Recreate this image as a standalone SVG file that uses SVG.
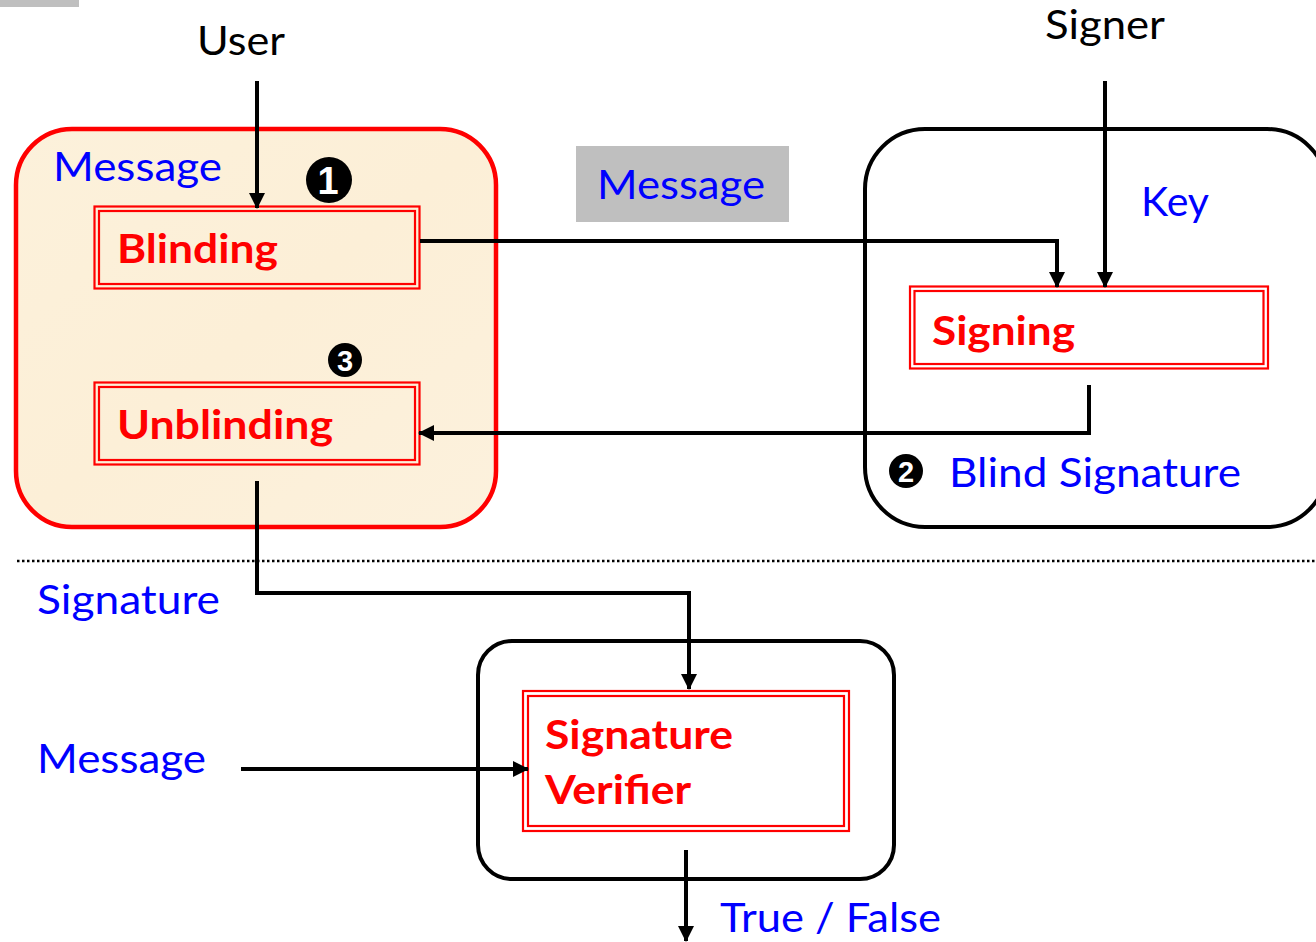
<svg xmlns="http://www.w3.org/2000/svg" width="1316" height="942" viewBox="0 0 1316 942">
  <style>
    .lbl { font-family: Lato, "Open Sans", "Liberation Sans", sans-serif; font-size: 41px; }
    .actor { fill: #000000; }
    .blue { fill: #0000FF; }
    .step { font-family: Lato, "Open Sans", "Liberation Sans", sans-serif; font-size: 41px; font-weight: bold; fill: #FF0000; }
    .outer { fill: none; stroke: #FF0000; stroke-width: 2.2; }
    .inner { fill: none; stroke: #FF0000; stroke-width: 2.2; }
    .conn { fill: none; stroke: #000000; stroke-width: 4; }
    .badge { fill: #000000; }
    .badgeNum { font-family: "Liberation Sans", Arial, sans-serif; font-weight: bold; fill: #FFFFFF; text-anchor: middle; }
  </style>
  <defs>
    <marker id="arrow" viewBox="0 0 16 16" refX="15" refY="8" markerWidth="16" markerHeight="16" markerUnits="userSpaceOnUse" orient="auto">
      <path d="M0,0 L16,8 L0,16 Z" fill="#000000"/>
    </marker>
    <linearGradient id="parchment" x1="0" y1="0" x2="1" y2="1">
      <stop offset="0" stop-color="#FCF1DB"/>
      <stop offset="0.5" stop-color="#FCEFD7"/>
      <stop offset="1" stop-color="#FCF1DD"/>
    </linearGradient>
  </defs>

  <rect width="1316" height="942" fill="#FFFFFF"/>
  <rect x="0" y="0" width="79" height="7" fill="#BFBFBF"/>

  <!-- user side container -->
  <g id="user-box">
    <rect x="16" y="129" width="480" height="398" rx="56" ry="56" fill="url(#parchment)" stroke="#FF0000" stroke-width="4.5"/>
    <text class="lbl blue" x="53" y="181" textLength="169" lengthAdjust="spacingAndGlyphs">Message</text>
  </g>

  <!-- signer side container -->
  <g id="signer-box">
    <rect x="865" y="129" width="462" height="398" rx="60" ry="60" fill="none" stroke="#000000" stroke-width="4"/>
    <text class="lbl blue" x="1141" y="216" textLength="68" lengthAdjust="spacingAndGlyphs">Key</text>
    <circle class="badge" cx="906" cy="471" r="17"/>
    <text class="badgeNum" x="906" y="482" font-size="29">2</text>
    <text class="lbl blue" x="949" y="487" textLength="292" lengthAdjust="spacingAndGlyphs">Blind Signature</text>
  </g>

  <!-- verifier container -->
  <g id="verifier-box">
    <rect x="478" y="641" width="416" height="238" rx="34" ry="34" fill="none" stroke="#000000" stroke-width="4"/>
  </g>

  <g id="user-label">
    <text class="lbl actor" x="197" y="55" textLength="88" lengthAdjust="spacingAndGlyphs">User</text>
  </g>
  <g id="signer-label">
    <text class="lbl actor" x="1045" y="39" textLength="120" lengthAdjust="spacingAndGlyphs">Signer</text>
  </g>

  <g id="step1">
    <circle class="badge" cx="329" cy="180" r="23"/>
    <text class="badgeNum" x="328" y="194" font-size="38">1</text>
  </g>

  <g id="blinding">
    <rect class="outer" x="94.5" y="206.5" width="325" height="82"/>
    <rect class="inner" x="99" y="211" width="316" height="73"/>
    <text class="step" x="117" y="263" textLength="161" lengthAdjust="spacingAndGlyphs">Blinding</text>
  </g>

  <g id="step3">
    <circle class="badge" cx="345" cy="360" r="17"/>
    <text class="badgeNum" x="345" y="371" font-size="29">3</text>
  </g>

  <g id="unblinding">
    <rect class="outer" x="94.5" y="382.5" width="325" height="82"/>
    <rect class="inner" x="99" y="387" width="316" height="73"/>
    <text class="step" x="117" y="439" textLength="216" lengthAdjust="spacingAndGlyphs">Unblinding</text>
  </g>

  <g id="message-tag">
    <rect x="576" y="146" width="213" height="76" fill="#BFBFBF"/>
    <text class="lbl blue" x="597" y="199" textLength="168" lengthAdjust="spacingAndGlyphs">Message</text>
  </g>

  <g id="signing">
    <rect class="outer" x="910" y="286.5" width="358" height="82"/>
    <rect class="inner" x="914.5" y="291" width="349" height="73"/>
    <text class="step" x="932" y="345" textLength="143" lengthAdjust="spacingAndGlyphs">Signing</text>
  </g>

  <g id="signature-verifier">
    <rect class="outer" x="523" y="691" width="326" height="140"/>
    <rect class="inner" x="528" y="696" width="316" height="130"/>
    <text class="step" x="545" y="749" textLength="188" lengthAdjust="spacingAndGlyphs">Signature</text>
    <text class="step" x="545" y="804" textLength="146" lengthAdjust="spacingAndGlyphs">Verifier</text>
  </g>

  <g id="labels">
    <text class="lbl blue" x="37" y="614" textLength="183" lengthAdjust="spacingAndGlyphs">Signature</text>
    <text class="lbl blue" x="37" y="773" textLength="169" lengthAdjust="spacingAndGlyphs">Message</text>
    <text class="lbl blue" x="720" y="932" textLength="221" lengthAdjust="spacingAndGlyphs">True / False</text>
  </g>

  <!-- boundary between signing and verification -->
  <line x1="17" y1="561" x2="1316" y2="561" stroke="#000000" stroke-width="2.5" stroke-dasharray="2.5 2.5"/>

  <g id="connectors">
    <path class="conn" d="M257,81 V208" marker-end="url(#arrow)"/>
    <path class="conn" d="M420,241 H1057 V287" marker-end="url(#arrow)"/>
    <path class="conn" d="M1105,81 V287" marker-end="url(#arrow)"/>
    <path class="conn" d="M1089,385 V433 H419" marker-end="url(#arrow)"/>
    <path class="conn" d="M257,481 V593 H689 V689" marker-end="url(#arrow)"/>
    <path class="conn" d="M241,769 H528" marker-end="url(#arrow)"/>
    <path class="conn" d="M686,850 V941" marker-end="url(#arrow)"/>
  </g>
</svg>
